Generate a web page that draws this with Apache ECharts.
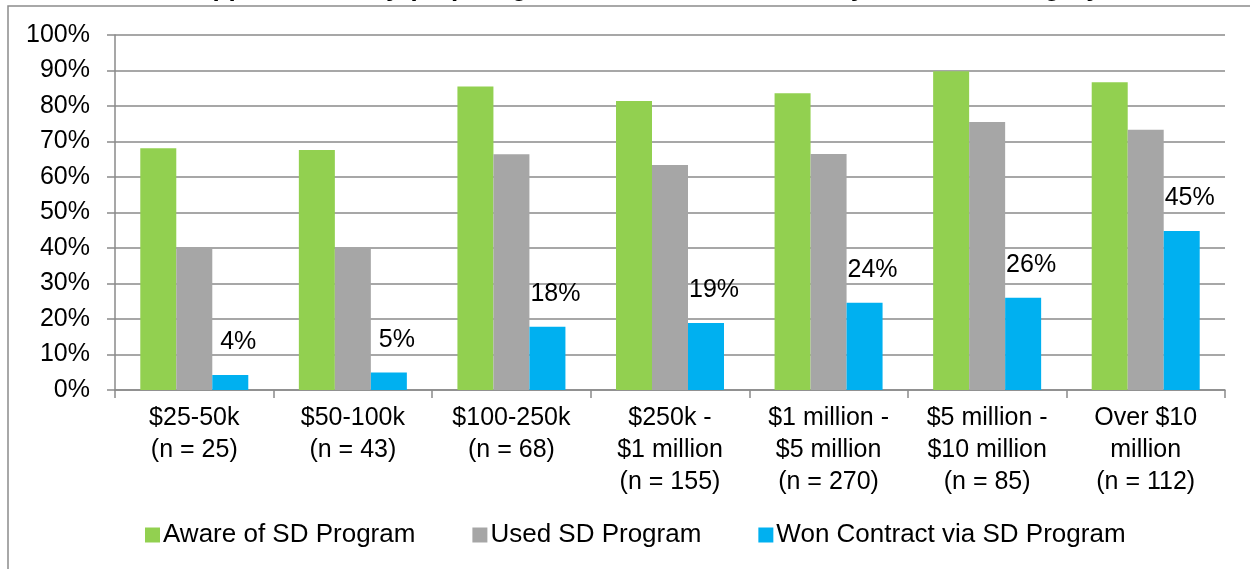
<!DOCTYPE html>
<html>
<head>
<meta charset="utf-8">
<script src="https://cdn.jsdelivr.net/npm/echarts@6/dist/echarts.min.js"></script>
<style>
  html, body { margin: 0; padding: 0; background: #fff; }
  #chart { width: 1250px; height: 569px; }
</style>
</head>
<body>
<div id="chart"></div>
<script>
// firm size categories
const categories = ['$25-50k\n(n = 25)', '$50-100k\n(n = 43)', '$100-250k\n(n = 68)',
  '$250k -\n$1 million\n(n = 155)', '$1 million -\n$5 million\n(n = 270)',
  '$5 million -\n$10 million\n(n = 85)', 'Over $10\nmillion\n(n = 112)'];
const aware = [68.1, 67.6, 85.5, 81.4, 83.6, 89.8, 86.7];
const used = [40.2, 39.9, 66.4, 63.4, 66.5, 75.5, 73.3];
const won = [4.2, 4.9, 17.8, 18.9, 24.6, 26.0, 44.8];
const wonLabels = ['4%', '5%', '18%', '19%', '24%', '26%', '45%'];

const font = 'Liberation Sans, Arial, sans-serif';
const gridGray = '#8a8a8a';

const chart = echarts.init(document.getElementById('chart'));
chart.setOption({
  animation: false,
  textStyle: { fontFamily: font },
  title: {
    text: 'Supplier Diversity (SD) Program Awareness and Use by Revenue Category',
    left: 635, top: -31, textAlign: 'center',
    textStyle: { fontFamily: font, fontSize: 26, fontWeight: 'bold', color: '#000', lineHeight: 30 }
  },
  graphic: [{
    type: 'rect', shape: { x: 8, y: 6, width: 1260, height: 600 },
    style: { fill: 'none', stroke: '#8c8c8c', lineWidth: 1.5 }, z: -1
  }],
  grid: { left: 115, right: 25, top: 35, bottom: 179 },
  legend: {
    bottom: 16, left: 140, itemWidth: 15, itemHeight: 15, itemGap: 57,
    icon: 'rect',
    textStyle: { fontFamily: font, fontSize: 26, color: '#000', padding: [0, 0, 0, -2] },
    data: ['Aware of SD Program', 'Used SD Program', 'Won Contract via SD Program']
  },
  xAxis: {
    type: 'category', data: categories,
    axisLine: { lineStyle: { color: gridGray, width: 1.5 } },
    axisTick: { show: true, length: 8, lineStyle: { color: gridGray, width: 1.5 } },
    axisLabel: { fontFamily: font, fontSize: 25, color: '#000', lineHeight: 32, margin: 12, interval: 0 }
  },
  yAxis: {
    type: 'value', min: 0, max: 100, interval: 10,
    axisLine: { show: true, lineStyle: { color: gridGray, width: 1.5 } },
    axisTick: { show: true, length: 8, lineStyle: { color: gridGray, width: 1.5 } },
    splitLine: { lineStyle: { color: gridGray, width: 1.5 } },
    axisLabel: { fontFamily: font, fontSize: 25, color: '#000', margin: 25, formatter: '{value}%' }
  },
  series: [
    { name: 'Aware of SD Program', type: 'bar', data: aware, barWidth: 36, barGap: '0%',
      itemStyle: { color: '#92D050' } },
    { name: 'Used SD Program', type: 'bar', data: used, barWidth: 36,
      itemStyle: { color: '#A6A6A6' } },
    { name: 'Won Contract via SD Program', type: 'bar', data: won, barWidth: 36,
      itemStyle: { color: '#00B0F0' },
      label: { show: true, position: 'top', distance: 20, offset: [8, 0],
        fontFamily: font, fontSize: 25, color: '#000',
        formatter: p => wonLabels[p.dataIndex] } }
  ]
});
</script>
</body>
</html>
